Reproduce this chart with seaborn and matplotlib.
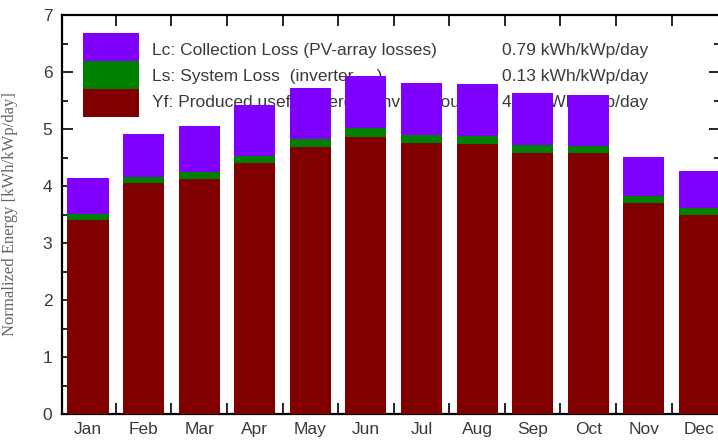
import matplotlib
matplotlib.use("Agg")
import matplotlib.pyplot as plt
from matplotlib.patches import Rectangle
from matplotlib.ticker import FixedLocator, MultipleLocator
import numpy as np
import pandas as pd
import seaborn as sns

months = ["Jan", "Feb", "Mar", "Apr", "May", "Jun", "Jul", "Aug", "Sep", "Oct", "Nov", "Dec"]
yf = [3.40, 4.05, 4.12, 4.40, 4.68, 4.86, 4.75, 4.74, 4.58, 4.58, 3.70, 3.49]
ls = [0.11, 0.11, 0.13, 0.13, 0.14, 0.15, 0.15, 0.14, 0.14, 0.12, 0.12, 0.12]
lc = [0.63, 0.76, 0.80, 0.89, 0.90, 0.92, 0.91, 0.91, 0.91, 0.90, 0.69, 0.65]

legend_labels = ["Lc: Collection Loss (PV-array losses)",
                 "Ls: System Loss  (inverter, ...)",
                 "Yf: Produced useful energy  (inverter output)"]
legend_values = ["0.79 kWh/kWp/day", "0.13 kWh/kWp/day", "4.28 kWh/kWp/day"]

c_lc = "#8000ff"
c_ls = "#008000"
c_yf = "#800000"

df = pd.DataFrame({"month": months, "yf": yf, "ls": ls, "lc": lc})
df["yf_ls"] = df["yf"] + df["ls"]
df["total"] = df["yf_ls"] + df["lc"]

sns.set_theme(style="white")
plt.rcParams["font.family"] = ["Liberation Sans", "DejaVu Sans"]

fig = plt.figure(figsize=(7.18, 4.43), dpi=100)
ax = fig.add_axes([62 / 718, 29 / 443, (720 - 62) / 718, (414 - 15) / 443])

bw = 0.74
for col, color in [("total", c_lc), ("yf_ls", c_ls), ("yf", c_yf)]:
    sns.barplot(data=df, x="month", y=col, color=color, width=bw, ax=ax,
                saturation=1, linewidth=0, zorder=3)

ax.set_xlim(-0.468, 11.37)
ax.set_ylim(0, 7)

# legend (drawn behind bars)
tr = ax.transAxes
def ax_x(px):
    return (px - 62) / (720 - 62)
def ax_y(py):
    return (414 - py) / (414 - 15)

box_x0, box_x1 = 83, 139
rows = [(33, 61), (61, 89), (89, 117)]
text_y = [50, 77, 103]
for (y0, y1), ty, color, lab, val in zip(rows, text_y, [c_lc, c_ls, c_yf],
                                          legend_labels, legend_values):
    ax.add_patch(Rectangle((ax_x(box_x0), ax_y(y1)), ax_x(box_x1) - ax_x(box_x0),
                           ax_y(y0) - ax_y(y1), transform=tr, facecolor=color,
                           edgecolor="none", zorder=1))
    ax.text(ax_x(152), ax_y(ty), lab, transform=tr, fontsize=12.5, color="#3a3a3a",
            va="center", ha="left", zorder=1)
    ax.text(ax_x(502), ax_y(ty), val, transform=tr, fontsize=12.5, color="#3a3a3a",
            va="center", ha="left", zorder=1)

# ticks
ax.xaxis.set_major_locator(FixedLocator(np.arange(12)))
ax.set_xticklabels(months)
ax.xaxis.set_minor_locator(FixedLocator(np.arange(11) + 0.5))
ax.tick_params(axis="x", which="major", length=0, pad=6, labelsize=12.5,
               labelcolor="#3a3a3a")
ax.tick_params(axis="x", which="minor", direction="in", length=8, width=1.2,
               top=True, bottom=True, color="black")
ax.yaxis.set_major_locator(MultipleLocator(1))
ax.yaxis.set_minor_locator(MultipleLocator(0.5))
ax.tick_params(axis="y", which="major", direction="in", length=8, width=1.2,
               left=True, right=True, pad=7, labelsize=12.5, labelcolor="#3a3a3a",
               color="black")
ax.tick_params(axis="y", which="minor", direction="in", length=4, width=1.2,
               left=True, right=True, color="black")

for s in ax.spines.values():
    s.set_color("black")
    s.set_linewidth(1.6)

ax.set_xlabel("")
ax.set_ylabel("Normalized Energy [kWh/kWp/day]", fontsize=12, color="#666666",
              family=["Liberation Serif", "DejaVu Serif"])
ax.yaxis.set_label_coords(ax_x(18), 0.5)

fig.savefig("out.png", dpi=100)
